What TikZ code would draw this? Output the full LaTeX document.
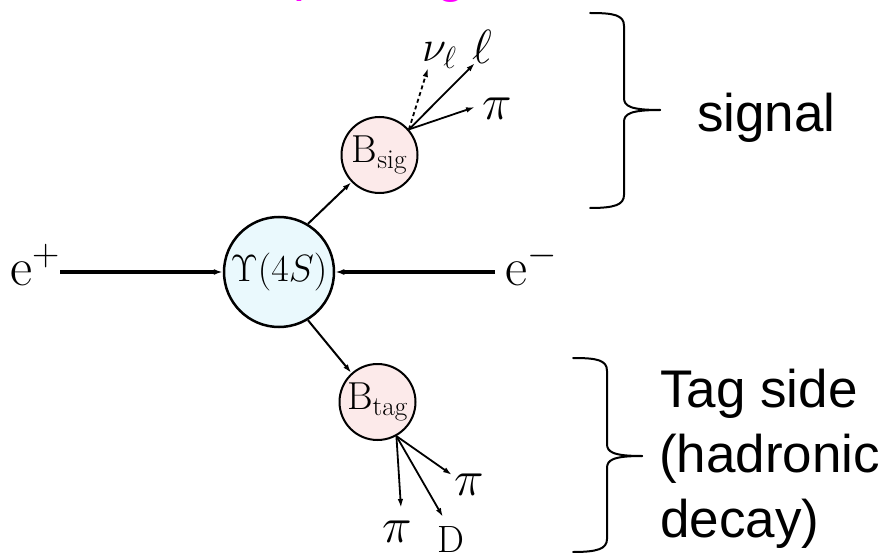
\RequirePackage{fix-cm}
\documentclass[tikz,border=0pt]{standalone}
\usepackage{fontspec}
\newfontfamily\arialfont{Liberation Sans}
\usetikzlibrary{arrows.meta}
\definecolor{ycol}{RGB}{234,249,253}
\definecolor{bcol}{RGB}{252,234,234}
\definecolor{titlemag}{RGB}{255,0,255}
\begin{document}
\begin{tikzpicture}[x=1pt,y=-1pt,
  particle/.style={circle,draw,line width=2pt,inner sep=0pt},
  arr/.style={line width=2pt,-{Latex[length=9pt,width=5.5pt]}},
  thickarr/.style={line width=3.5pt,-{Latex[length=9pt,width=6pt]}},
  lbl/.style={inner sep=0pt,anchor=base west},
  side/.style={inner sep=0pt,anchor=base west,font=\arialfont\fontsize{53}{65}\selectfont},
  bracepath/.style={line width=2pt,line cap=round}
]
\useasboundingbox (0,0) rectangle (888,553);
% cut-off title fragments
\node[lbl,text=titlemag,font=\arialfont\fontsize{53}{60}\selectfont] (t1) at (293,-9.5) {p};
\node[lbl,text=titlemag,font=\arialfont\fontsize{53}{60}\selectfont] (t2) at (436,-8.5) {g};

% main particles
\node[particle,fill=ycol,minimum size=110pt,line width=2.5pt] (Y) at (279,272)
  {\fontsize{38}{42}\selectfont$\Upsilon(4S)$};
\node[particle,fill=bcol,minimum size=76pt] (Bs) at (379.5,155)
  {\fontsize{39}{42}\selectfont$\mathrm{B}_{\mathrm{sig}}$};
\node[particle,fill=bcol,minimum size=76pt] (Bt) at (377.5,402)
  {\fontsize{39}{42}\selectfont$\mathrm{B}_{\mathrm{tag}}$};

% beams
\node[lbl] (ep) at (10,285) {\fontsize{54}{60}\selectfont$\mathrm{e}^{+}$};
\node[lbl] (em) at (505,285) {\fontsize{54}{60}\selectfont$\mathrm{e}^{-}$};
\coordinate (emstart) at (495,272);
\draw[thickarr] (ep.east |- Y) -- (Y);
\draw[thickarr] (emstart) -- (Y);

% B production
\draw[arr] (Y.59) -- (Bs.224);
\draw[arr] (Y.-59) -- (Bt.132);

% signal side decays
\coordinate (nutip) at (428,68);
\coordinate (ltip) at (475,63);
\coordinate (pstip) at (475,107);
\draw[arr,line width=1.8pt,dash pattern=on 4pt off 3pt] (Bs.41) -- (nutip);
\draw[arr,line width=1.8pt] (Bs.41) -- (ltip);
\draw[arr,line width=1.8pt] (Bs.41) -- (pstip);
\node[lbl] (nu) at (422,62) {\fontsize{44}{48}\selectfont$\nu_{\ell}$};
\node[lbl] (lep) at (472,64) {\fontsize{48}{52}\selectfont$\ell$};
\node[lbl] (pis) at (482,120) {\fontsize{50}{54}\selectfont$\pi$};

% tag side decays
\coordinate (pidtip) at (401,508);
\coordinate (dtip) at (443,517);
\coordinate (pirtip) at (452,475);
\draw[arr,line width=1.8pt] (Bt.-61) -- (pidtip);
\draw[arr,line width=1.8pt] (Bt.-61) -- (dtip);
\draw[arr,line width=1.8pt] (Bt.-61) -- (pirtip);
\node[lbl] (pid) at (382,542) {\fontsize{50}{54}\selectfont$\pi$};
\node[lbl] (dm) at (437,552) {\fontsize{38}{42}\selectfont$\mathrm{D}$};
\node[lbl] (pir) at (454,495) {\fontsize{50}{54}\selectfont$\pi$};

% braces
\draw[bracepath] (590,13) .. controls (614,13) and (624,15) .. (624,26) -- (624,98)
  .. controls (624,106) and (630,110) .. (660,110);
\draw[bracepath] (660,110) .. controls (630,110) and (624,114) .. (624,122) -- (624,195)
  .. controls (624,205) and (614,208) .. (590,208);
\draw[bracepath] (573,358) .. controls (597,358) and (607,360) .. (607,371) -- (607,444)
  .. controls (607,452) and (613,456) .. (642,456);
\draw[bracepath] (642,456) .. controls (613,456) and (607,460) .. (607,468) -- (607,539)
  .. controls (607,549) and (597,552) .. (573,552);

% side texts
\node[side] (sig) at (697,132) {signal};
\node[side] (tag1) at (660,407) {Tag side};
\node[side] (tag2) at (659,472) {(hadronic};
\node[side] (tag3) at (660,537) {decay)};
\end{tikzpicture}
\end{document}
